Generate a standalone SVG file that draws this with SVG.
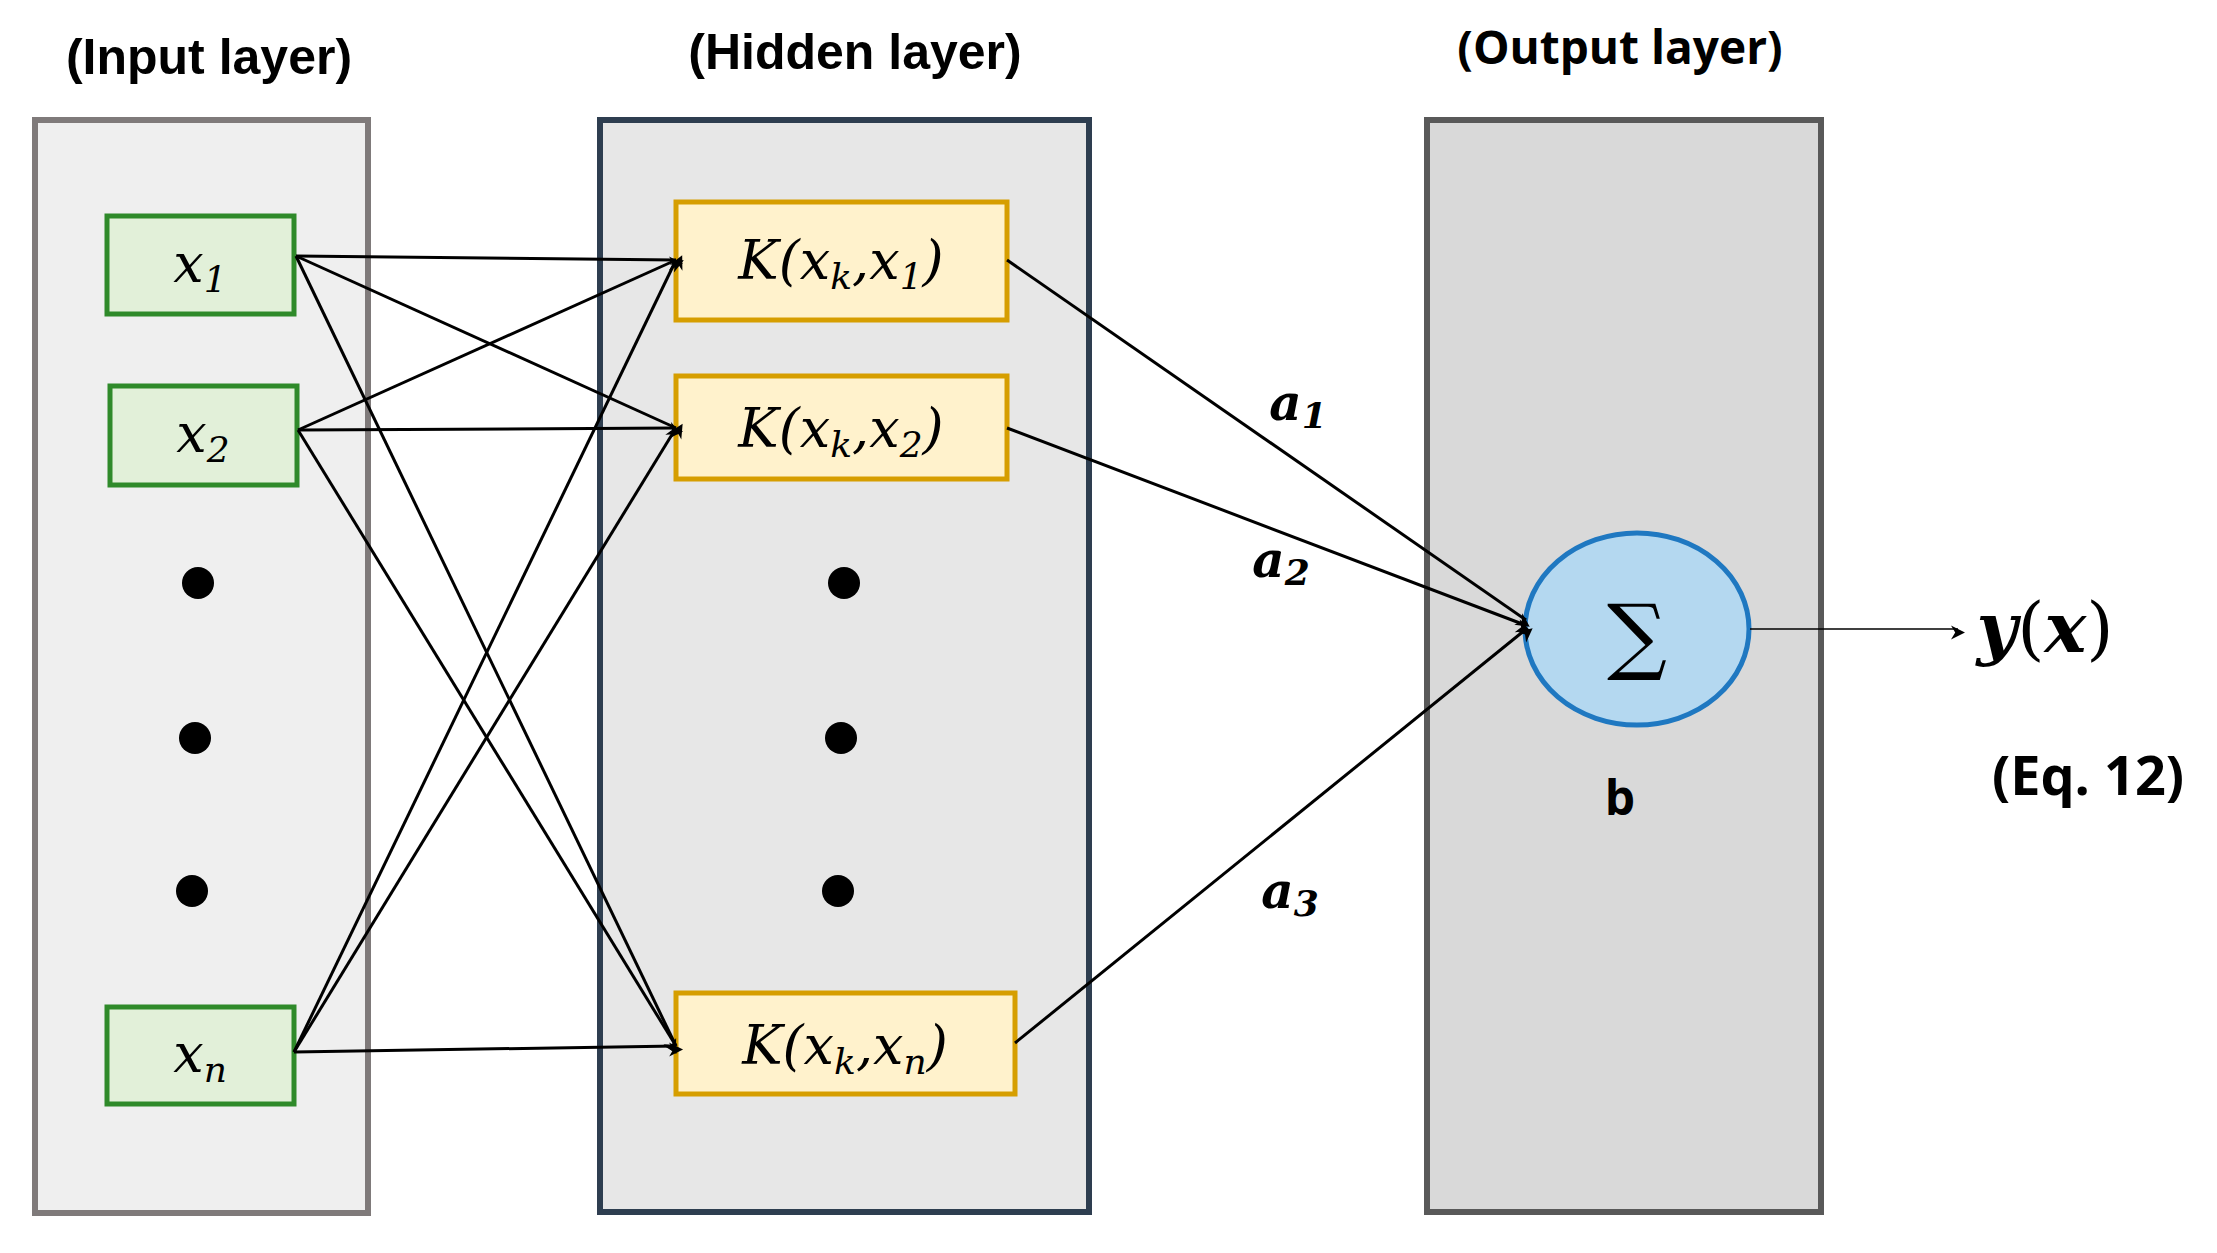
<svg xmlns="http://www.w3.org/2000/svg" width="2217" height="1253" viewBox="0 0 2217 1253">
<style>
.title{font-family:"Open Sans","Liberation Sans",sans-serif;font-weight:bold;font-size:46px;text-anchor:middle}
.math{font-family:"DejaVu Serif","Liberation Serif",serif;font-style:italic;font-size:54px;text-anchor:middle}
.sub{font-size:36px}
.bm{font-family:"DejaVu Serif","Liberation Serif",serif;font-style:italic;font-weight:bold;font-size:50px;text-anchor:middle}
.in{fill:#e2f0d9;stroke:#2f8a2a;stroke-width:5}
.hid{fill:#fff2cc;stroke:#d69e00;stroke-width:5}
.c{stroke:#000;stroke-width:3;fill:none;marker-end:url(#ah)}
</style>
<defs>
<marker id="ah" viewBox="0 0 10 10" refX="10" refY="5" markerWidth="7" markerHeight="7" orient="auto" markerUnits="userSpaceOnUse" style="overflow:visible">
<path d="M0,0 L10,5 L0,10 L3,5 Z" fill="#000" transform="scale(2)"/>
</marker>
</defs>
<rect width="2217" height="1253" fill="#fff"/>
<g id="input-layer">
<rect x="35" y="120" width="333" height="1093" fill="#efefef" stroke="#7f7a7a" stroke-width="6"/>
<text class="title" x="209" y="74" style="font-family:'Liberation Sans',sans-serif;font-size:50px">(Input layer)</text>
<circle cx="198" cy="583" r="16"/><circle cx="195" cy="738" r="16"/><circle cx="192" cy="891" r="16"/>
</g>
<g id="hidden-layer">
<rect x="600" y="120" width="489" height="1092" fill="#e7e7e7" stroke="#2e3e50" stroke-width="6"/>
<text class="title" x="855" y="69" style="font-family:'Liberation Sans',sans-serif;font-size:50px">(Hidden layer)</text>
<circle cx="844" cy="583" r="16"/><circle cx="841" cy="738" r="16"/><circle cx="838" cy="891" r="16"/>
</g>
<g id="output-layer">
<rect x="1427" y="120" width="394" height="1092" fill="#d9d9d9" stroke="#595959" stroke-width="6"/>
<text class="title" x="1620" y="64">(Output layer)</text>
</g>
<g id="x1"><rect class="in" x="107" y="216" width="187" height="98"/><text class="math" x="200" y="282">x<tspan class="sub" dy="10">1</tspan></text></g>
<g id="x2"><rect class="in" x="110" y="386" width="187" height="99"/><text class="math" x="203" y="452">x<tspan class="sub" dy="10">2</tspan></text></g>
<g id="xn"><rect class="in" x="107" y="1007" width="187" height="97"/><text class="math" x="200" y="1072">x<tspan class="sub" dy="10">n</tspan></text></g>
<g id="k1"><rect class="hid" x="676" y="202" width="331" height="118"/><text class="math" x="841" y="279">K(x<tspan class="sub" dy="10">k</tspan><tspan dy="-10">,x</tspan><tspan class="sub" dy="10">1</tspan><tspan dy="-10">)</tspan></text></g>
<g id="k2"><rect class="hid" x="676" y="376" width="331" height="103"/><text class="math" x="841" y="447">K(x<tspan class="sub" dy="10">k</tspan><tspan dy="-10">,x</tspan><tspan class="sub" dy="10">2</tspan><tspan dy="-10">)</tspan></text></g>
<g id="kn"><rect class="hid" x="676" y="993" width="339" height="101"/><text class="math" x="845" y="1064">K(x<tspan class="sub" dy="10">k</tspan><tspan dy="-10">,x</tspan><tspan class="sub" dy="10">n</tspan><tspan dy="-10">)</tspan></text></g>
<g id="sum"><ellipse cx="1637" cy="629" rx="112" ry="96" fill="#b4d8f0" stroke="#1f78c1" stroke-width="5"/><text x="1637" y="664" style="font-family:'DejaVu Serif',serif;font-size:84px;text-anchor:middle">∑</text>
<text x="1620" y="815" style="font-family:'Open Sans',sans-serif;font-weight:bold;font-size:48px;text-anchor:middle">b</text></g>
<g id="output"><text class="bm" x="2045" y="652" style="font-size:70px">y<tspan style="font-weight:normal;font-style:normal">(</tspan>x<tspan style="font-weight:normal;font-style:normal">)</tspan></text>
<text class="title" x="2088" y="795" style="font-size:54px">(Eq. 12)</text></g>
<g id="connectors">
<line class="c" x1="296" y1="256" x2="676" y2="260"/>
<line class="c" x1="296" y1="256" x2="676" y2="428"/>
<line class="c" x1="296" y1="256" x2="676" y2="1046"/>
<line class="c" x1="298" y1="430" x2="676" y2="260"/>
<line class="c" x1="298" y1="430" x2="676" y2="428"/>
<line class="c" x1="298" y1="430" x2="676" y2="1046"/>
<line class="c" x1="294" y1="1052" x2="676" y2="260"/>
<line class="c" x1="294" y1="1052" x2="676" y2="428"/>
<line class="c" x1="294" y1="1052" x2="676" y2="1046"/>
<line class="c" x1="1007" y1="260" x2="1526" y2="620"/>
<line class="c" x1="1007" y1="428" x2="1525" y2="625"/>
<line class="c" x1="1015" y1="1043" x2="1525" y2="630"/>
<line class="c" x1="1750" y1="629" x2="1958" y2="629" style="stroke-width:1.5"/>
<text class="bm" x="1298" y="420">a<tspan class="sub" dy="8">1</tspan></text>
<text class="bm" x="1281" y="577">a<tspan class="sub" dy="8">2</tspan></text>
<text class="bm" x="1290" y="908">a<tspan class="sub" dy="8">3</tspan></text>
</g>
</svg>
